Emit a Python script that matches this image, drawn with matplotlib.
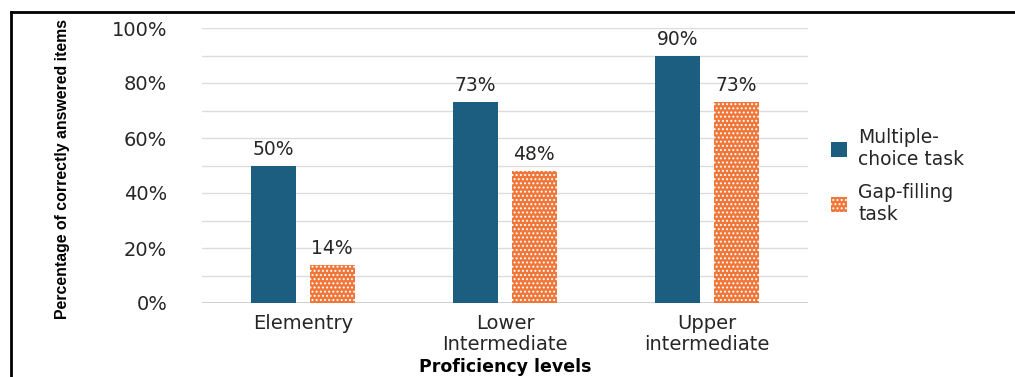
import matplotlib
matplotlib.use("Agg")
import matplotlib.pyplot as plt
from matplotlib.lines import Line2D
import numpy as np

categories = ["Elementry", "Lower\nIntermediate", "Upper\nintermediate"]
multiple_choice = [50, 73, 90]
gap_filling = [14, 48, 73]
series_names = ["Multiple-\nchoice task", "Gap-filling\ntask"]
ytick_values = [0, 20, 40, 60, 80, 100]

BLUE = "#1b5e80"
ORANGE = "#f0773a"

plt.rcParams["font.family"] = ["DejaVu Sans"]
plt.rcParams["hatch.linewidth"] = 0.9

fig = plt.figure(figsize=(10.15, 3.77), dpi=100)
ax = fig.add_axes([202/1015, 1-303/377, 606/1015, 275/377])

x = np.arange(len(categories))
w = 0.225
off = 0.145
b1 = ax.bar(x - off, multiple_choice, w, color=BLUE, label=series_names[0], zorder=3)
b2 = ax.bar(x + off, gap_filling, w, color=ORANGE, edgecolor="white", linewidth=0,
            hatch="....", label=series_names[1], zorder=3)

for bars, vals in ((b1, multiple_choice), (b2, gap_filling)):
    for r, v in zip(bars, vals):
        ax.annotate(f"{v}%", (r.get_x() + r.get_width()/2, v), xytext=(0, 5),
                    textcoords="offset points", ha="center", va="bottom",
                    fontsize=13.5, color="#262626")

ax.set_xlim(-0.5, 2.5)
ax.set_ylim(0, 100)
ax.set_yticks(ytick_values)
ax.set_yticklabels([f"{v}%" for v in ytick_values], fontsize=14, color="#262626")
ax.set_yticks(np.arange(10, 100, 20), minor=True)
ax.tick_params(axis="y", which="both", length=0, pad=25)
ax.set_xticks(x)
ax.set_xticklabels(categories, fontsize=14, color="#262626", linespacing=1.15)
ax.tick_params(axis="x", length=0, pad=8)
ax.grid(axis="y", which="both", color="#dcdcdc", linewidth=1, zorder=0)
ax.axhline(0, color="#c8c8c8", linewidth=1.2, zorder=2)
for s in ax.spines.values():
    s.set_visible(False)

ax.set_xlabel("Proficiency levels", fontsize=12.5, fontweight="bold", labelpad=2.5, color="black")
fig.text(63/1015, 1-169/377, "Percentage of correctly answered items", rotation=90,
         ha="center", va="center", fontsize=11.4, fontweight="bold",
         family=["Liberation Sans", "DejaVu Sans"], color="black")

leg = fig.legend(handles=[b1, b2], loc="center left", bbox_to_anchor=(814/1015, 1-176/377),
                 frameon=False, fontsize=13.5, handlelength=0.85, handleheight=0.85,
                 handletextpad=0.6, labelspacing=0.75, labelcolor="#262626")

# outer frame
fig.add_artist(Line2D([11/1015, 11/1015], [0, 1-12/377], color="black", linewidth=2,
                      transform=fig.transFigure))
fig.add_artist(Line2D([11/1015, 1], [1-12/377, 1-12/377], color="black", linewidth=2,
                      transform=fig.transFigure))

fig.savefig("out.png", dpi=100)
